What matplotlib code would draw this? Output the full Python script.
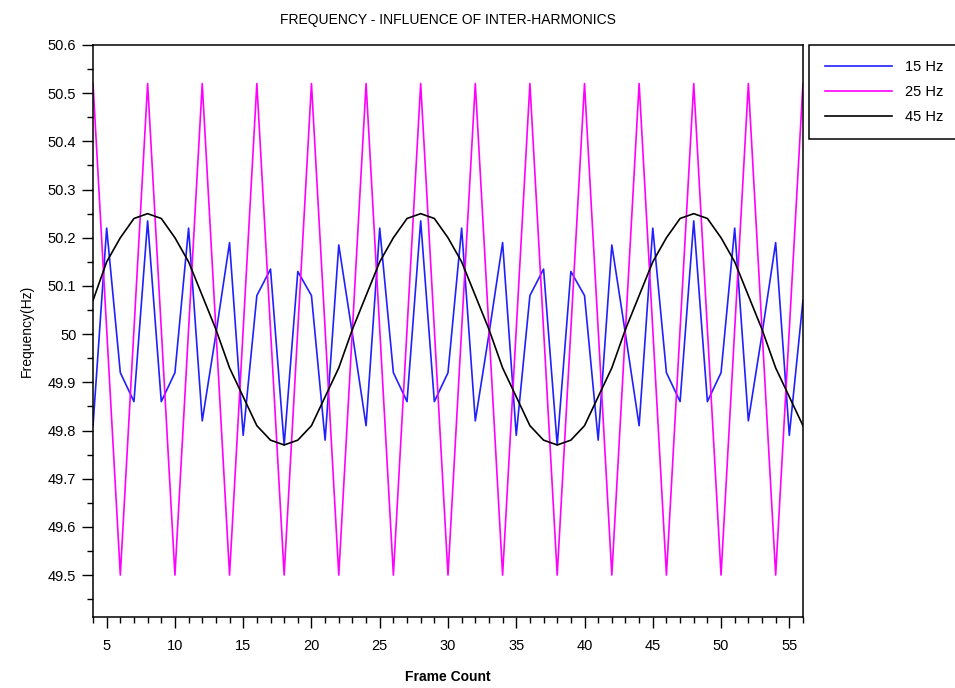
import numpy as np
import matplotlib
matplotlib.use("Agg")
import matplotlib.pyplot as plt
from matplotlib.ticker import MultipleLocator, FuncFormatter

plt.rcParams['font.family'] = ['Liberation Sans', 'DejaVu Sans']

# frame numbers 4..56
frames = list(range(4, 57))

# 15 Hz inter-harmonic
f15 = [49.81, 50.22, 49.92, 49.86, 50.235, 49.86, 49.92, 50.22, 49.82, 50.00,
       50.19, 49.79, 50.08, 50.135, 49.77, 50.13, 50.08, 49.78, 50.185, 50.00,
       49.81, 50.22, 49.92, 49.86, 50.235, 49.86, 49.92, 50.22, 49.82, 50.00,
       50.19, 49.79, 50.08, 50.135, 49.77, 50.13, 50.08, 49.78, 50.185, 50.00,
       49.81, 50.22, 49.92, 49.86, 50.235, 49.86, 49.92, 50.22, 49.82, 50.00,
       50.19, 49.79, 50.07]

# 25 Hz
f25 = [50.52, 50.01, 49.50, 50.01, 50.52, 50.01, 49.50, 50.01, 50.52, 50.01,
       49.50, 50.01, 50.52, 50.01, 49.50, 50.01, 50.52, 50.01, 49.50, 50.01,
       50.52, 50.01, 49.50, 50.01, 50.52, 50.01, 49.50, 50.01, 50.52, 50.01,
       49.50, 50.01, 50.52, 50.01, 49.50, 50.01, 50.52, 50.01, 49.50, 50.01,
       50.52, 50.01, 49.50, 50.01, 50.52, 50.01, 49.50, 50.01, 50.52, 50.01,
       49.50, 50.01, 50.52]

# 45 Hz
f45 = [50.07, 50.15, 50.20, 50.24, 50.25, 50.24, 50.20, 50.15, 50.08, 50.01,
       49.93, 49.87, 49.81, 49.78, 49.77, 49.78, 49.81, 49.87, 49.93, 50.01,
       50.08, 50.15, 50.20, 50.24, 50.25, 50.24, 50.20, 50.15, 50.08, 50.01,
       49.93, 49.87, 49.81, 49.78, 49.77, 49.78, 49.81, 49.87, 49.93, 50.01,
       50.08, 50.15, 50.20, 50.24, 50.25, 50.24, 50.20, 50.15, 50.08, 50.01,
       49.93, 49.87, 49.81]

labels = ['15 Hz', '25 Hz', '45 Hz']
colors = ['#2020ff', '#ff00ff', 'black']

fig = plt.figure(figsize=(9.55, 6.88), dpi=100)
ax = fig.add_axes([0.0974, 0.1032, 0.7434, 0.8314])

for ys, lab, c in zip([f15, f25, f45], labels, colors):
    ax.plot(frames, ys, color=c, lw=1.2, label=lab)

ax.set_xlim(4, 56)
ax.set_ylim(49.413, 50.6)

ax.xaxis.set_major_locator(MultipleLocator(5))
ax.xaxis.set_minor_locator(MultipleLocator(1))
ax.yaxis.set_major_locator(MultipleLocator(0.1))
ax.yaxis.set_minor_locator(MultipleLocator(0.05))
ax.yaxis.set_major_formatter(FuncFormatter(lambda v, p: ('%.1f' % v).rstrip('0').rstrip('.')))

ax.tick_params(which='major', direction='out', length=8, width=1, labelsize=10.5, pad=4)
ax.tick_params(which='minor', direction='out', length=4, width=1)
ax.tick_params(axis='x', which='major', pad=8)
ax.tick_params(top=False, right=False)
for s in ax.spines.values():
    s.set_linewidth(1.1)

ax.set_title('FREQUENCY - INFLUENCE OF INTER-HARMONICS', fontsize=10, pad=15)
ax.set_xlabel('Frame Count', fontsize=10, fontweight='bold', labelpad=12)
ax.set_ylabel('Frequency(Hz)', fontsize=10, labelpad=10)

leg = ax.legend(loc='upper left', bbox_to_anchor=(1.009, 1.0), fancybox=False,
                edgecolor='black', fontsize=10.5, handlelength=4.65, labelspacing=0.75,
                borderpad=1.05, borderaxespad=0, handletextpad=0.85, framealpha=1)
leg.get_frame().set_linewidth(1.1)

fig.savefig('out.png', dpi=100)
